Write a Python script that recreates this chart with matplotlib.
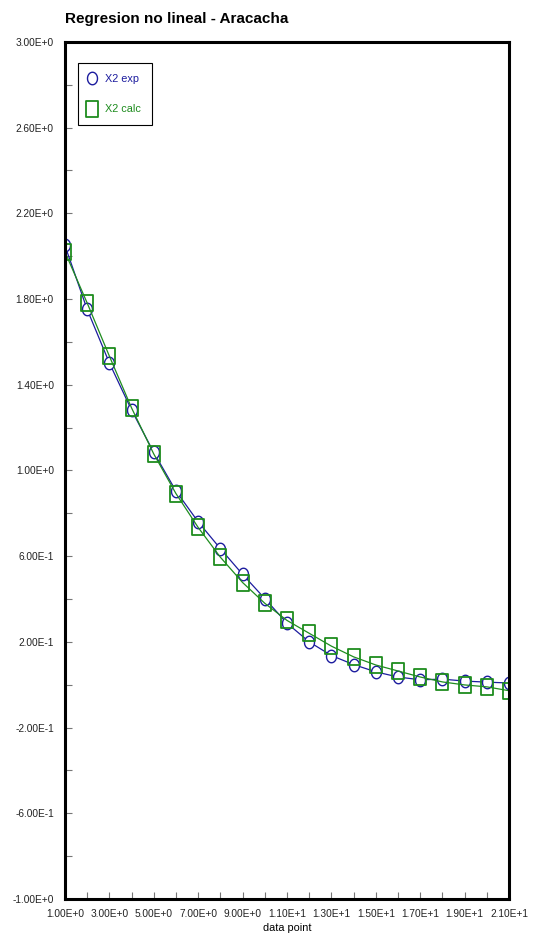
import matplotlib
matplotlib.use("Agg")
import numpy as np
import matplotlib.pyplot as plt
from matplotlib.path import Path
from matplotlib.ticker import MultipleLocator, FuncFormatter

plt.rcParams['font.family'] = ['Liberation Sans', 'DejaVu Sans']

data_point = list(range(1, 22))
x2_exp = [2.050, 1.752, 1.502, 1.282, 1.084, 0.904, 0.760, 0.635, 0.515, 0.402,
          0.287, 0.200, 0.136, 0.094, 0.060, 0.036, 0.023, 0.026, 0.017, 0.012, 0.008]
x2_calc = [2.020, 1.782, 1.534, 1.292, 1.077, 0.892, 0.734, 0.595, 0.477, 0.380,
           0.300, 0.240, 0.180, 0.130, 0.092, 0.064, 0.036, 0.013, -0.001, -0.010, -0.028]

blue = '#1c1c9e'
green = '#1e8c1e'

# slightly tall markers: an ellipse and a rectangle
t = np.linspace(0, 2 * np.pi, 40)
ellipse = Path(np.column_stack([0.8 * np.cos(t), np.sin(t)]), closed=True)
rect = Path([(-0.75, -1), (0.75, -1), (0.75, 1), (-0.75, 1), (-0.75, -1)], closed=True)


def sci_label(v, pos):
    if abs(v) < 1e-12:
        return ''
    mant, exp = f"{v:.2E}".split('E')
    return f"{mant}E{int(exp):+d}"


fig = plt.figure(figsize=(5.41, 9.46), dpi=100)
ax = fig.add_axes([0.120, 0.0497, 0.821, 0.906])

ax.plot(data_point, x2_exp, color=blue, lw=0.9, marker=ellipse, ms=9,
        mfc='white', mec=blue, mew=1.0, label='X2 exp')
ax.plot(data_point, x2_calc, color=green, lw=0.9, marker=rect, ms=11,
        mfc='none', mec=green, mew=1.3, label='X2 calc')

ax.set_xlim(1, 21)
ax.set_ylim(-1.0, 3.0)

ax.xaxis.set_major_locator(MultipleLocator(2, offset=1))
ax.xaxis.set_minor_locator(MultipleLocator(1))
ax.yaxis.set_major_locator(MultipleLocator(0.4, offset=0.2))
ax.yaxis.set_minor_locator(MultipleLocator(0.2))
ax.xaxis.set_major_formatter(FuncFormatter(sci_label))
ax.yaxis.set_major_formatter(FuncFormatter(sci_label))

ax.tick_params(which='both', direction='in', colors='#777777', labelcolor='#222222',
               labelsize=7.3, width=0.8, length=5)
ax.tick_params(axis='y', pad=8)
ax.tick_params(axis='x', pad=7)

for sp in ax.spines.values():
    sp.set_linewidth(2.2)
    sp.set_color('black')

ax.set_xlabel('data point', fontsize=7.8, labelpad=3)
fig.text(0.121, 0.980, 'Regresion no lineal - Aracacha', fontsize=11,
         fontweight='bold', ha='left', va='center')

leg = ax.legend(loc='upper left', bbox_to_anchor=(0.029, 0.9755), borderaxespad=0,
                fontsize=7.8, frameon=True, fancybox=False, edgecolor='black',
                framealpha=1, handlelength=0.7, handletextpad=0.8, borderpad=1.0,
                labelspacing=1.9)
leg.get_frame().set_linewidth(0.8)
for h in leg.legend_handles:
    h.set_linestyle('none')
for txt, c in zip(leg.get_texts(), [blue, green]):
    txt.set_color(c)

fig.savefig('out.png', dpi=100)
